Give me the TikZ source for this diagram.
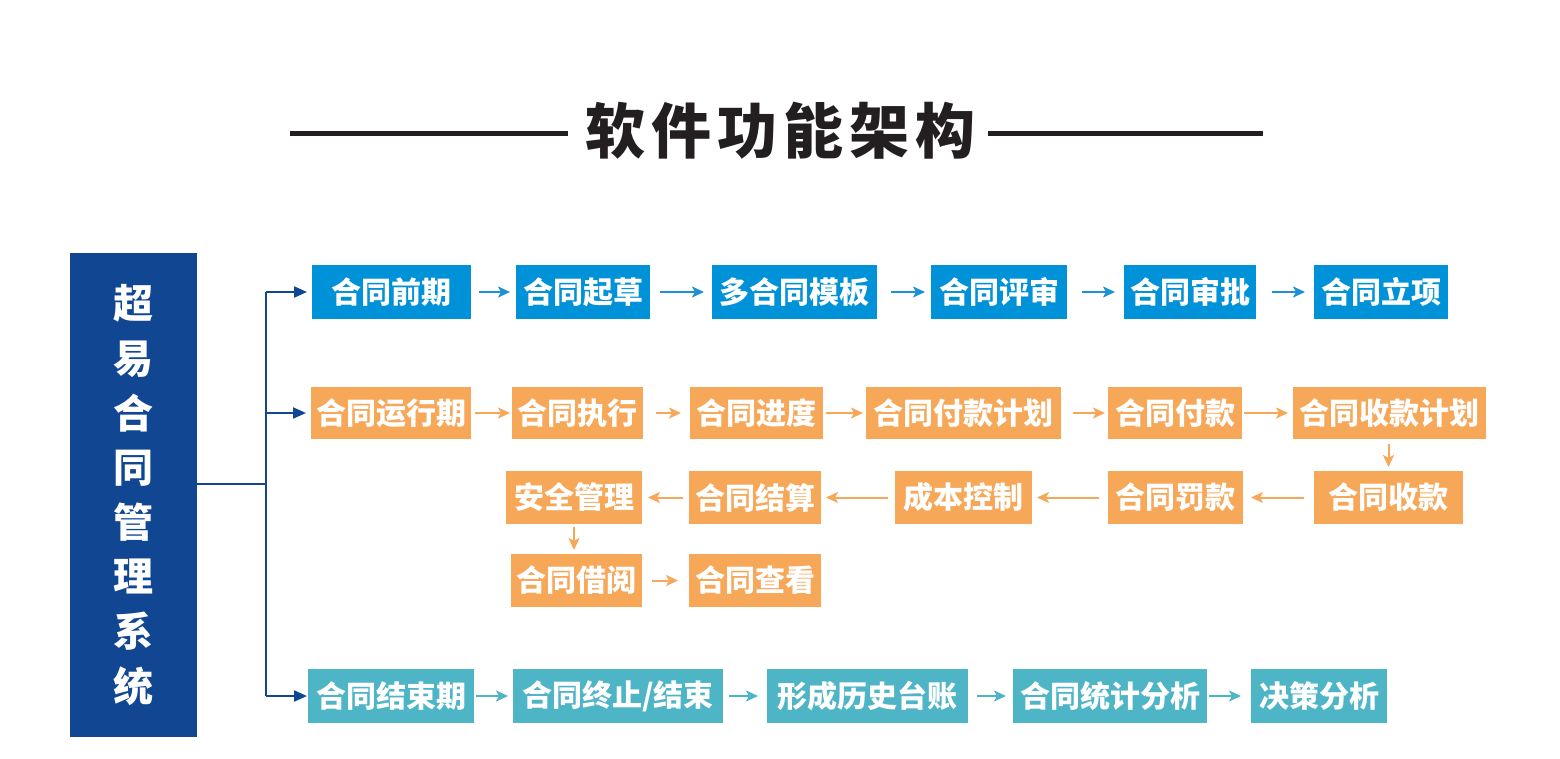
\documentclass[tikz,border=0pt]{standalone}
\usepackage{fontspec}
\newfontfamily\cjk{Noto Sans CJK SC}
\newfontfamily\titlecjk[LetterSpace=10]{Noto Sans CJK SC}
\usetikzlibrary{arrows.meta}
\definecolor{cblue}{RGB}{0,146,216}
\definecolor{corange}{RGB}{247,167,88}
\definecolor{cteal}{RGB}{77,181,198}
\definecolor{cnavy}{RGB}{17,70,146}
\definecolor{ctitle}{RGB}{35,31,32}
\definecolor{cbluearrow}{RGB}{30,145,213}
\tikzset{
  boxbase/.style={inner sep=0pt, outer sep=0pt, text=white, font=\cjk\bfseries\fontsize{30}{30}\selectfont},
  bluebox/.style={boxbase, fill=cblue, minimum height=54pt},
  orangebox/.style={boxbase, fill=corange, minimum height=53pt},
  tealbox/.style={boxbase, fill=cteal, minimum height=54pt},
  flowtip/.style={-{Stealth[length=12pt,width=11pt,inset=3pt]}, line width=2pt},
  bluearrow/.style={flowtip, draw=cbluearrow},
  orangearrow/.style={flowtip, draw=corange},
  tealarrow/.style={flowtip, draw=cteal},
  treeline/.style={draw=cnavy, line width=2.2pt},
  treearrow/.style={treeline, -{Triangle[length=13pt,width=11pt]}},
}
\begin{document}
\begin{tikzpicture}[x=1pt,y=-1pt]
\useasboundingbox[fill=white] (0,0) rectangle (1560,758);
% title
\node[inner sep=0pt, text=ctitle, font=\titlecjk\bfseries\fontsize{60}{60}\selectfont] (title) at (780,131) {软件功能架构};
\coordinate (tl) at (290,133);
\coordinate (tr) at (1263,133);
\draw[ctitle, line width=5pt] (tl) -- ([xshift=-17pt]title.west |- tl);
\draw[ctitle, line width=5pt] ([xshift=13pt]title.east |- tr) -- (tr);
% left box
\node[fill=cnavy, inner sep=0pt, minimum width=127pt, minimum height=484pt, text=white, align=center,
  font=\cjk\bfseries\fontsize{40}{54.6}\selectfont] (lb) at (133.5,495) {超\\易\\合\\同\\管\\理\\系\\统};
% row 1
\node[bluebox, minimum width=159pt] (p1) at (391.5,292) {合同前期};
\node[bluebox, minimum width=134pt] (p2) at (583,292) {合同起草};
\node[bluebox, minimum width=165pt] (p3) at (794.5,292) {多合同模板};
\node[bluebox, minimum width=136pt] (p4) at (999,292) {合同评审};
\node[bluebox, minimum width=132pt] (p5) at (1190,292) {合同审批};
\node[bluebox, minimum width=134pt] (p6) at (1381,292) {合同立项};
% row 2
\node[orangebox, minimum width=160pt, minimum height=52pt] (r1) at (391,413) {合同运行期};
\node[orangebox, minimum width=131pt, minimum height=52pt] (r2) at (577.5,413) {合同执行};
\node[orangebox, minimum width=133pt, minimum height=52pt] (r3) at (756.5,413) {合同进度};
\node[orangebox, minimum width=195pt, minimum height=52pt] (r4) at (963.5,413) {合同付款计划};
\node[orangebox, minimum width=134pt, minimum height=52pt] (r5) at (1175,413) {合同付款};
\node[orangebox, minimum width=193pt, minimum height=52pt] (r6) at (1389.5,413) {合同收款计划};
% row 3
\node[orangebox, minimum width=149pt] (s1) at (1388.5,497.5) {合同收款};
\node[orangebox, minimum width=135pt] (s2) at (1175.5,497.5) {合同罚款};
\node[orangebox, minimum width=137pt] (s3) at (963.5,497.5) {成本控制};
\node[orangebox, minimum width=132pt] (s4) at (755,497.5) {合同结算};
\node[orangebox, minimum width=136pt] (s5) at (574,497.5) {安全管理};
% row 4
\node[orangebox, minimum width=131pt] (t1) at (576.5,580.5) {合同借阅};
\node[orangebox, minimum width=132pt] (t2) at (755,580.5) {合同查看};
% row 5
\node[tealbox, minimum width=166pt] (e1) at (391,696) {合同结束期};
\node[tealbox, minimum width=210pt] (e2) at (618,696) {合同终止/结束};
\node[tealbox, minimum width=201pt] (e3) at (867.5,696) {形成历史台账};
\node[tealbox, minimum width=194pt] (e4) at (1110,696) {合同统计分析};
\node[tealbox, minimum width=136pt] (e5) at (1319,696) {决策分析};
% tree
\coordinate (j) at (266,484);
\draw[treeline] (lb.east |- j) -- (j);
\draw[treeline] (j |- p1) -- (j |- e1);
\draw[treearrow, shorten >=5pt] (j |- p1) -- (p1.west);
\draw[treearrow, shorten >=5pt] (j |- r1) -- (r1.west);
\draw[treearrow, shorten >=1pt] (j |- e1) -- (e1.west);
% row 1 arrows
\draw[bluearrow, shorten <=8pt, shorten >=6pt] (p1) -- (p2);
\draw[bluearrow, shorten <=10pt, shorten >=8pt] (p2) -- (p3);
\draw[bluearrow, shorten <=14pt, shorten >=6pt] (p3) -- (p4);
\draw[bluearrow, shorten <=15pt, shorten >=9pt] (p4) -- (p5);
\draw[bluearrow, shorten <=16pt, shorten >=9pt] (p5) -- (p6);
% row 2 arrows
\draw[orangearrow, shorten <=4pt, shorten >=2pt] (r1) -- (r2);
\draw[orangearrow, shorten <=13pt, shorten >=9pt] (r2) -- (r3);
\draw[orangearrow, shorten <=3pt, shorten >=3pt] (r3) -- (r4);
\draw[orangearrow, shorten <=12pt, shorten >=3pt] (r4) -- (r5);
\draw[orangearrow, shorten <=2pt, shorten >=5pt] (r5) -- (r6);
\draw[orangearrow, shorten <=5pt, shorten >=4pt] (r6.south -| s1) -- (s1.north);
% row 3 arrows
\draw[orangearrow, shorten <=10pt, shorten >=8pt] (s1) -- (s2);
\draw[orangearrow, shorten <=9pt, shorten >=5pt] (s2) -- (s3);
\draw[orangearrow, shorten <=7pt, shorten >=5pt] (s3) -- (s4);
\draw[orangearrow, shorten <=6pt, shorten >=6pt] (s4) -- (s5);
\draw[orangearrow, shorten <=3pt, shorten >=4pt] (s5.south) -- (s5.south |- t1.north);
% row 4 arrows
\draw[orangearrow, shorten <=10pt, shorten >=11pt] (t1) -- (t2);
% row 5 arrows
\draw[tealarrow, shorten <=2pt, shorten >=5pt] (e1) -- (e2);
\draw[tealarrow, shorten <=6pt, shorten >=9pt] (e2) -- (e3);
\draw[tealarrow, shorten <=9pt, shorten >=7pt] (e3) -- (e4);
\draw[tealarrow, shorten <=2pt, shorten >=10pt] (e4) -- (e5);
\end{tikzpicture}
\end{document}
